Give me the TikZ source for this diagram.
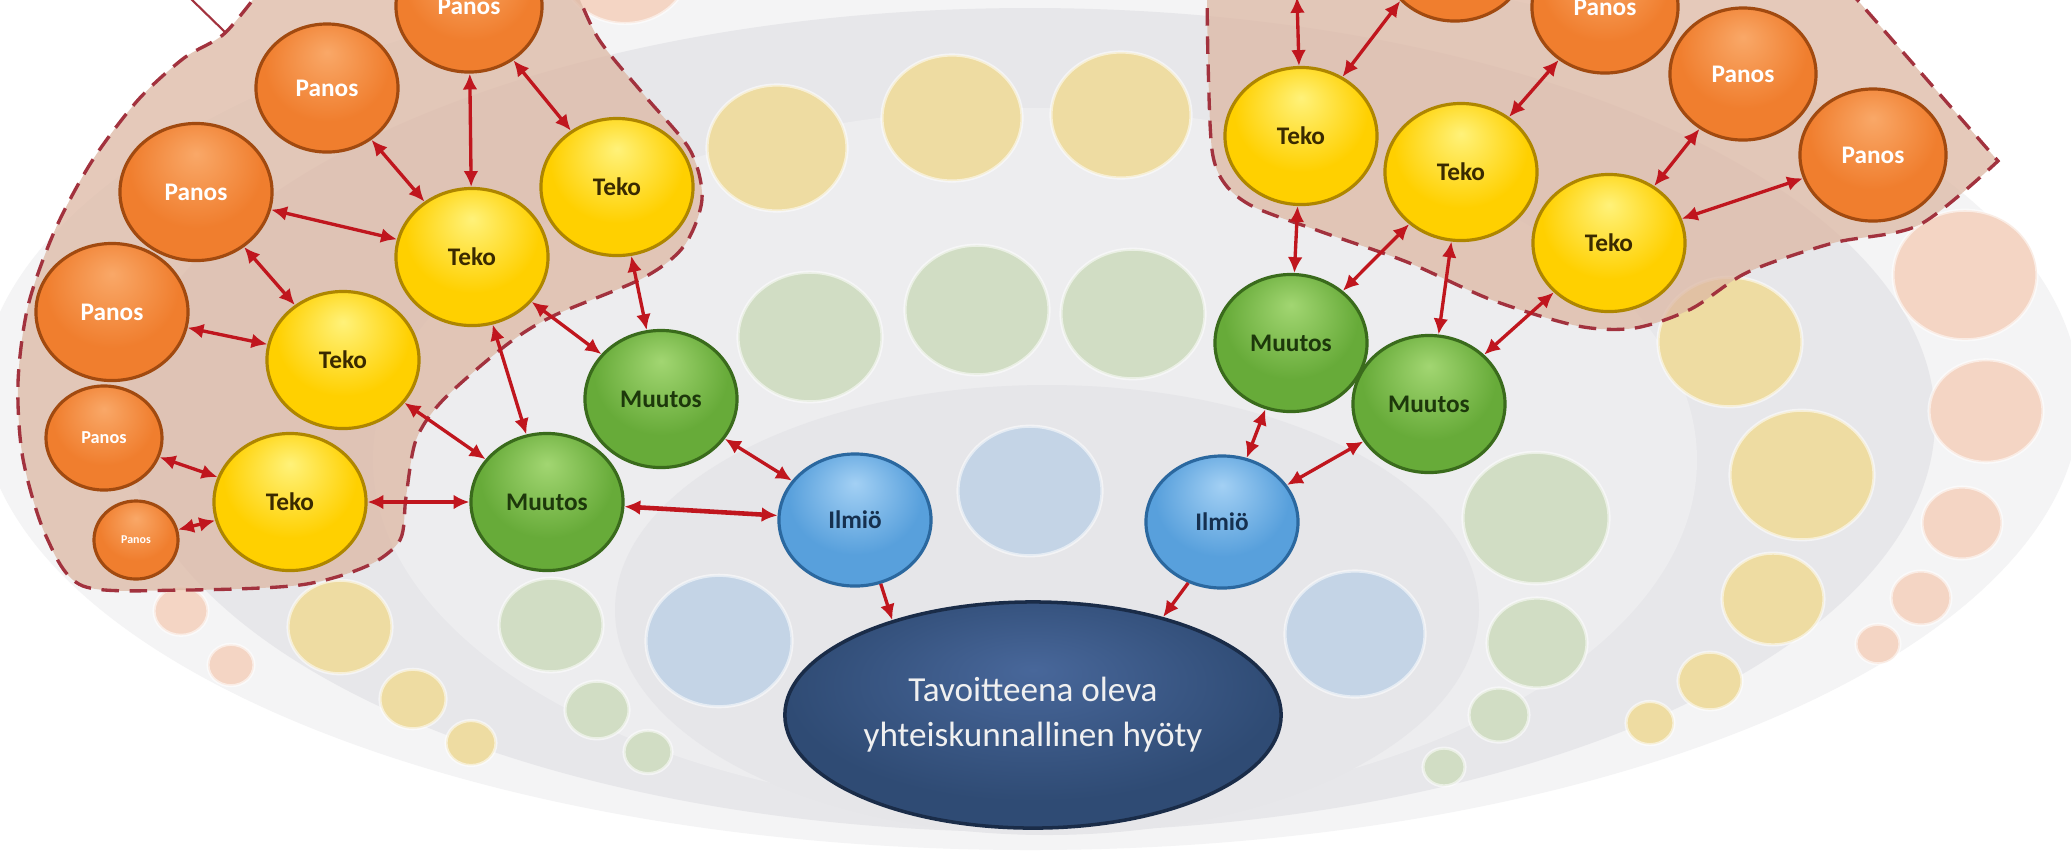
\documentclass[tikz,border=0pt]{standalone}
\usepackage{fontspec}
\setmainfont{Carlito}
\usetikzlibrary{arrows.meta,shapes.geometric}

\definecolor{orH}{HTML}{F9A868}
\definecolor{orM}{HTML}{F07E2E}
\definecolor{orD}{HTML}{A14A10}
\definecolor{yeH}{HTML}{FFF27A}
\definecolor{yeM}{HTML}{FFD000}
\definecolor{yeD}{HTML}{AE8600}
\definecolor{grH}{HTML}{A2D672}
\definecolor{grM}{HTML}{67AB39}
\definecolor{grD}{HTML}{3A6B1C}
\definecolor{blH}{HTML}{A3D0F4}
\definecolor{blM}{HTML}{58A0DC}
\definecolor{blD}{HTML}{2B689F}
\definecolor{nvH}{HTML}{48679A}
\definecolor{nvM}{HTML}{2F4B74}
\definecolor{nvD}{HTML}{1A2C48}
\definecolor{arr}{HTML}{C0161E}
\definecolor{regfill}{HTML}{DDB8A4}
\definecolor{regline}{HTML}{A2323E}
\definecolor{ringA}{HTML}{F4F4F5}
\definecolor{ringB}{HTML}{E7E7EA}
\definecolor{ringC}{HTML}{EDEDEF}
\definecolor{ringD}{HTML}{E6E6E9}
\definecolor{fY}{HTML}{EEDCA2}
\definecolor{fG}{HTML}{D1DDC4}
\definecolor{fB}{HTML}{C4D4E6}
\definecolor{fP}{HTML}{F4D5C4}
\definecolor{tekoT}{HTML}{3A2A00}
\definecolor{muuT}{HTML}{1D380B}
\definecolor{ilmT}{HTML}{16304F}

\pgfdeclareradialshading{orangeball}{\pgfpoint{0bp}{14bp}}{color(0bp)=(orH); color(22bp)=(orM); color(40bp)=(orM); color(48bp)=(orD); color(60bp)=(orD)}
\pgfdeclareradialshading{yellowball}{\pgfpoint{0bp}{14bp}}{color(0bp)=(yeH); color(22bp)=(yeM); color(40bp)=(yeM); color(48bp)=(yeD); color(60bp)=(yeD)}
\pgfdeclareradialshading{greenball}{\pgfpoint{0bp}{14bp}}{color(0bp)=(grH); color(22bp)=(grM); color(40bp)=(grM); color(48bp)=(grD); color(60bp)=(grD)}
\pgfdeclareradialshading{blueball}{\pgfpoint{0bp}{14bp}}{color(0bp)=(blH); color(22bp)=(blM); color(40bp)=(blM); color(48bp)=(blD); color(60bp)=(blD)}
\pgfdeclareradialshading{navyball}{\pgfpoint{0bp}{10bp}}{color(0bp)=(nvH); color(25bp)=(nvM); color(44bp)=(nvM); color(49bp)=(nvD); color(60bp)=(nvD)}

\tikzset{
  ballnode/.style={ellipse, inner sep=0pt, line width=0.9pt, shade, font=\fontsize{7.2}{8}\selectfont\bfseries},
  panos/.style={ballnode, draw=orD, shading=orangeball, text=white, minimum width=1.46cm, minimum height=1.32cm},
  teko/.style={ballnode, draw=yeD, shading=yellowball, text=tekoT, minimum width=1.52cm, minimum height=1.37cm},
  muutos/.style={ballnode, draw=grD, shading=greenball, text=muuT, minimum width=1.52cm, minimum height=1.37cm},
  ilmio/.style={ballnode, draw=blD, shading=blueball, text=ilmT, minimum width=1.52cm, minimum height=1.32cm},
  goal/.style={ellipse, inner sep=0pt, line width=1pt, draw=nvD, shade, shading=navyball, text=white!94!black, align=center,
    minimum width=4.96cm, minimum height=2.26cm, font=\fontsize{10}{12.8}\selectfont},
  faint/.style={fill=#1, draw=white, draw opacity=0.55, line width=0.9pt},
  region/.style={fill=regfill, fill opacity=0.75, draw=regline, line width=0.95pt, dash pattern=on 5pt off 3pt},
  arrline/.style={draw=arr, line width=0.95pt},
  biarrow/.style={arrline, {Latex[length=4.5pt,width=4.2pt]}-{Latex[length=4.5pt,width=4.2pt]}},
  toarrow/.style={arrline, -{Latex[length=4.5pt,width=4.2pt]}}
}

\begin{document}
\begin{tikzpicture}[x=0.01cm,y=-0.01cm]
\useasboundingbox (0,0) rectangle (2071,859);
\begin{scope}
\clip (0,0) rectangle (2071,859);
\fill[white] (0,0) rectangle (2071,859);
% background rings
\fill[ringA] (1030,400) ellipse [x radius=1050, y radius=450];
\fill[ringB] (1030,420) ellipse [x radius=905, y radius=412];
\fill[ringC] (1035,460) ellipse [x radius=662, y radius=352];
\fill[ringD] (1047,610) ellipse [x radius=432, y radius=225];
% faint circles
\foreach \x/\y/\r in {777/148/70, 952/118/70, 1121/115/70, 340/627/52, 413/699/33, 471/743/25,
  1730/342/72, 1802/475/72, 1773/599/51, 1710/681/32, 1650/723/24}
  \path[faint=fY] (\x,\y) ellipse [x radius=\r, y radius=0.9*\r];
\foreach \x/\y/\r in {810/337/72, 977/310/72, 1133/314/72, 551/625/52, 597/710/32, 648/752/24,
  1536/518/73, 1537/643/50, 1499/715/30, 1444/767/21}
  \path[faint=fG] (\x,\y) ellipse [x radius=\r, y radius=0.9*\r];
\foreach \x/\y/\r in {1030/491/72, 719/641/73, 1355/634/70}
  \path[faint=fB] (\x,\y) ellipse [x radius=\r, y radius=0.9*\r];
\foreach \x/\y/\r in {181/611/27, 231/665/23, 1965/275/72, 1986/411/57, 1962/523/40, 1921/598/30, 1878/644/22, 625/-35/65}
  \path[faint=fP] (\x,\y) ellipse [x radius=\r, y radius=0.9*\r];
% dashed regions
\draw[region] plot[smooth, tension=0.5] coordinates {(268,-20) (225,33) (184,58) (138,100) (92,161) (55,230) (28,306) (18,383) (23,459) (46,536) (83,586) (184,590) (300,585) (367,566) (400,540) (406,497) (416,440) (443,400) (505,346) (553,316) (643,278) (684,246) (702,199) (690,150) (645,96) (598,38) (572,-20)} -- cycle;
\draw[region] plot[smooth, tension=0.5] coordinates {(1207,-20) (1208,60) (1212,150) (1225,184) (1254,207) (1322,232) (1407,262) (1492,300) (1578,326) (1635,328) (1691,309) (1748,272) (1833,243) (1919,225) (1998,161)} -- (1840,-20) -- cycle;
\coordinate (tlA) at (188,-4);
\coordinate (tlB) at (226,33);
\draw[draw=regline, line width=0.6pt] (tlA) -- (tlB);

% nodes left
\node[panos] (PA) at (469,6) {Panos};
\node[panos, minimum width=1.42cm, minimum height=1.28cm] (PB) at (327,88) {Panos};
\node[panos, minimum width=1.52cm, minimum height=1.37cm] (PC) at (196,192) {Panos};
\node[panos, minimum width=1.52cm, minimum height=1.37cm] (PD) at (112,312) {Panos};
\node[panos, minimum width=1.16cm, minimum height=1.04cm, font=\fontsize{5.2}{6}\selectfont\bfseries] (PE) at (104,438) {Panos};
\node[panos, minimum width=0.84cm, minimum height=0.78cm, font=\fontsize{3.4}{4}\selectfont\bfseries] (PF) at (136,540) {Panos};
\node[teko] (TA) at (617,187) {Teko};
\node[teko] (TB) at (472,257) {Teko};
\node[teko] (TC) at (343,360) {Teko};
\node[teko] (TD) at (290,502) {Teko};
\node[muutos] (MA) at (661,399) {Muutos};
\node[muutos] (MB) at (547,502) {Muutos};
\node[ilmio] (IL) at (855,520) {Ilmiö};
\node[goal] (G) at (1033,715) {Tavoitteena oleva\\yhteiskunnallinen hyöty};
% nodes right
\node[panos] (PR1) at (1455,-45) {};
\node[panos] (PR2) at (1605,7) {Panos};
\node[panos] (PR3) at (1743,74) {Panos};
\node[panos] (PR4) at (1873,155) {Panos};
\node[teko] (TR1) at (1301,136) {Teko};
\node[teko] (TR2) at (1461,172) {Teko};
\node[teko] (TR3) at (1609,243) {Teko};
\node[muutos] (MR1) at (1291,343) {Muutos};
\node[muutos] (MR2) at (1429,404) {Muutos};
\node[ilmio] (IR) at (1222,522) {Ilmiö};
\coordinate (topR) at (1297,-3);

% connectors left
\draw[biarrow] (PA) -- (TB);
\draw[biarrow] (PA) -- (TA);
\draw[biarrow] (PB) -- (TB);
\draw[biarrow] (PC) -- (TB);
\draw[biarrow] (PC) -- (TC);
\draw[biarrow] (PD) -- (TC);
\draw[biarrow] (PE) -- (TD);
\draw[biarrow] (PF) -- (TD);
\draw[biarrow] (TA) -- (MA);
\draw[biarrow] (TB) -- (MA);
\draw[biarrow] (TB) -- (MB);
\draw[biarrow] (TC) -- (MB);
\draw[biarrow] (TD) -- (MB);
\draw[biarrow, line width=1.3pt] (MB) -- (IL);
\draw[biarrow] (MA) -- (IL);
\draw[toarrow] (IL.-68) -- (G.146);
% connectors right
\draw[biarrow] (TR1) -- (topR);
\draw[biarrow] (TR1.55) -- (PR1.220);
\draw[biarrow] (TR2) -- (PR2);
\draw[biarrow] (TR3) -- (PR3);
\draw[biarrow] (TR3) -- (PR4);
\draw[biarrow] (TR1) -- (MR1);
\draw[biarrow] (TR2) -- (MR1);
\draw[biarrow] (TR2) -- (MR2);
\draw[biarrow] (TR3) -- (MR2);
\draw[biarrow] (MR1) -- (IR);
\draw[biarrow] (MR2) -- (IR);
\draw[toarrow] (IR.-119) -- (G.37);
\end{scope}
\end{tikzpicture}
\end{document}
